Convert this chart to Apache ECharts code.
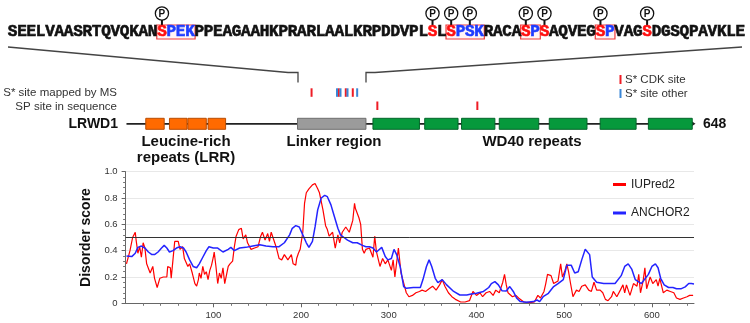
<!DOCTYPE html>
<html><head><meta charset="utf-8">
<script src="https://cdn.jsdelivr.net/npm/echarts@6/dist/echarts.min.js"></script>
<style>html,body{margin:0;padding:0;background:#fff}#c{width:750px;height:323px}</style>
</head><body><div id="c"></div>
<script>
// ---------------- data ----------------
const sequence = "SEELVAASRTQVQKANSPEKPPEAGAAHKPRARLAALKRPDDVPLSLSPSKRACASPSAQVEGSPVAGSDGSQPAVKLE";
const seqStart = 196;                       // first residue of the shown linker sequence
const proteinLength = 648;
const phosphoChars = [17, 46, 48, 50, 56, 58, 64, 69];   // positions in the shown sequence (1-based)
const redChars = [17, 46, 48, 56, 58, 64, 69];
const blueChars = [18, 19, 20, 49, 50, 51, 57, 65];
const motifBoxes = [[17, 20], [48, 51], [56, 57], [64, 65]];
const msSitesCDK = [212, 243, 251, 259];
const msSitesOther = [241, 245, 253, 264];
const spSites = [287, 401];
const lrrDomains = [[23, 44], [50, 70], [71, 92], [94, 114]];
const linkerDomain = [[196, 274]];
const wd40Domains = [[282, 335], [341, 379], [383, 421], [426, 471], [483, 526], [541, 582], [596, 646]];
const xTicks = [100, 200, 300, 400, 500, 600];

const iupred2 = [
[1,0.30],[5,0.40],[8,0.50],[11,0.54],[12,0.48],[14,0.38],[16,0.43],[18,0.35],[20,0.46],[22,0.42],[24,0.30],[28,0.23],[31,0.28],[33,0.19],[36,0.12],[39,0.19],[43,0.20],[47,0.20],[48,0.28],[51,0.27],[52,0.19],[54,0.33],[56,0.47],[58,0.46],[60,0.47],[62,0.41],[65,0.43],[67,0.34],[69,0.33],[71,0.28],[73,0.30],[76,0.23],[79,0.15],[81,0.13],[83,0.18],[84,0.23],[86,0.19],[88,0.28],[90,0.22],[92,0.24],[94,0.18],[96,0.25],[98,0.29],[100,0.35],[101,0.39],[103,0.28],[105,0.15],[107,0.23],[109,0.19],[111,0.27],[113,0.15],[115,0.14],[117,0.28],[119,0.30],[122,0.32],[124,0.43],[126,0.51],[129,0.56],[132,0.57],[134,0.49],[137,0.52],[139,0.46],[143,0.41],[147,0.42],[151,0.43],[154,0.51],[156,0.54],[159,0.48],[162,0.53],[164,0.47],[166,0.54],[168,0.55],[172,0.42],[175,0.34],[178,0.33],[181,0.37],[185,0.33],[189,0.37],[191,0.30],[194,0.29],[195,0.34],[197,0.38],[199,0.41],[202,0.54],[204,0.76],[206,0.84],[209,0.87],[213,0.90],[216,0.91],[219,0.87],[221,0.84],[225,0.71],[228,0.59],[230,0.56],[232,0.51],[236,0.54],[239,0.42],[242,0.52],[244,0.46],[247,0.54],[251,0.58],[255,0.54],[259,0.63],[261,0.76],[262,0.72],[266,0.65],[268,0.60],[270,0.41],[272,0.38],[274,0.41],[278,0.42],
[282,0.35],[284,0.51],[286,0.39],[290,0.28],[293,0.34],[296,0.30],[299,0.33],[303,0.25],[305,0.33],[307,0.20],[311,0.42],[313,0.43],[314,0.23],[316,0.18],[320,0.08],[323,0.05],[327,0.06],[331,0.08],[335,0.09],[338,0.10],[342,0.09],[346,0.11],[350,0.13],[354,0.10],[358,0.14],[361,0.18],[364,0.13],[368,0.08],[372,0.05],[376,0.03],[382,0.01],[387,0.01],[392,0.02],[396,0.09],[400,0.06],[404,0.08],[407,0.05],[411,0.08],[415,0.09],[419,0.06],[422,0.10],[426,0.08],[430,0.16],[432,0.22],[434,0.14],[436,0.08],[441,0.05],[445,0.06],[448,0.04],[454,0.01],[461,0.005],[466,0.01],[470,0.06],[473,0.04],[477,0.09],[479,0.15],[481,0.22],[485,0.21],[488,0.15],[493,0.17],[496,0.30],[498,0.20],[501,0.25],[503,0.30],[505,0.24],[507,0.16],[510,0.05],[512,0.06],[514,0.10],[517,0.09],[520,0.13],[524,0.14],[526,0.15],[528,0.10],[531,0.09],[534,0.16],[537,0.10],[541,0.10],[544,0.08],[547,0.03],[550,0.02],[554,0.05],[556,0.09],[560,0.05],[564,0.10],[567,0.14],[569,0.08],[571,0.14],[575,0.06],[579,0.15],[583,0.13],[585,0.22],[587,0.08],[590,0.17],[592,0.27],[594,0.11],[598,0.20],[601,0.15],[605,0.18],[607,0.13],[609,0.19],[613,0.08],[617,0.10],[621,0.09],[625,0.08],[628,0.04],[632,0.03],[636,0.04],[640,0.05],[643,0.06],[647,0.06]
];
const anchor2 = [
[1,0.36],[7,0.355],[11,0.38],[14,0.425],[18,0.435],[22,0.42],[26,0.39],[30,0.37],[33,0.37],[37,0.39],[41,0.42],[44,0.44],[47,0.42],[50,0.39],[54,0.40],[58,0.42],[62,0.43],[66,0.42],[69,0.39],[73,0.33],[77,0.28],[81,0.27],[84,0.30],[88,0.35],[92,0.40],[95,0.43],[100,0.42],[105,0.42],[111,0.39],[117,0.41],[120,0.425],[124,0.40],[130,0.42],[137,0.425],[145,0.435],[153,0.445],[160,0.435],[168,0.43],[175,0.43],[181,0.46],[187,0.52],[190,0.57],[194,0.59],[198,0.58],[202,0.52],[206,0.46],[209,0.425],[213,0.47],[216,0.58],[219,0.71],[223,0.80],[227,0.82],[230,0.81],[234,0.75],[238,0.66],[242,0.57],[245,0.52],[249,0.50],[253,0.48],[259,0.46],[264,0.46],[270,0.44],[274,0.43],[278,0.43],[282,0.42],[286,0.39],[292,0.425],[296,0.355],[299,0.33],[303,0.34],[306,0.41],[309,0.37],[313,0.28],[317,0.127],[320,0.114],[328,0.12],[336,0.12],[339,0.18],[343,0.28],[346,0.33],[349,0.28],[353,0.19],[356,0.157],[361,0.18],[366,0.14],[374,0.09],[381,0.063],[389,0.063],[394,0.07],[400,0.076],[408,0.09],[414,0.12],[417,0.15],[421,0.165],[425,0.14],[429,0.096],[434,0.094],[438,0.127],[442,0.09],[446,0.038],[450,0.013],[457,0.008],[465,0.013],[469,0.025],[472,0.013],[476,0.05],[482,0.076],[488,0.127],[493,0.15],[499,0.18],[503,0.29],[508,0.29],[512,0.23],[516,0.24],[520,0.33],[524,0.41],[526,0.42],[529,0.37],[532,0.20],[537,0.16],[545,0.15],[552,0.15],[558,0.15],[565,0.21],[569,0.28],[573,0.30],[577,0.26],[581,0.18],[588,0.15],[596,0.22],[600,0.28],[604,0.30],[607,0.27],[610,0.19],[614,0.14],[619,0.12],[624,0.12],[628,0.11],[633,0.11],[638,0.125],[642,0.15],[645,0.15],[648,0.147]
];

// ---------------- layout / styles ----------------
const SANS = '"Liberation Sans", Arial, sans-serif';
const RED = '#ff1010', BLUE = '#1f3dff';
const seqX0 = 8, pitch = 9.33, seqY = 32;

const chart = echarts.init(document.getElementById('c'), null, {renderer: 'canvas'});

const graphics = [];
// sequence letters
for (let i = 0; i < sequence.length; i++) {
  const n = i + 1;
  let fill = '#111';
  if (redChars.includes(n)) fill = RED; else if (blueChars.includes(n)) fill = BLUE;
  graphics.push({type: 'text', z: 10, style: {text: sequence[i], x: seqX0 + (i + 0.5) * pitch, y: seqY,
    textAlign: 'center', textVerticalAlign: 'middle', fill: fill, stroke: fill, lineWidth: 0.6,
    font: 'bold 16px "Liberation Mono", "DejaVu Sans Mono", monospace'}});
}
// motif boxes
motifBoxes.forEach(([a, b]) => {
  graphics.push({type: 'rect', z: 5, shape: {x: seqX0 + (a - 1) * pitch - 0.5, y: 25, width: (b - a + 1) * pitch + 1, height: 14},
    style: {fill: 'rgba(255,80,80,0.06)', stroke: '#f03a3a', lineWidth: 1.2}});
});
// phospho markers
phosphoChars.forEach(n => {
  const cx = seqX0 + (n - 0.5) * pitch;
  graphics.push({type: 'line', z: 6, shape: {x1: cx, y1: 20, x2: cx, y2: 25.5}, style: {stroke: '#111', lineWidth: 2}});
  graphics.push({type: 'circle', z: 6, shape: {cx: cx, cy: 13.5, r: 6.6}, style: {fill: '#fff', stroke: '#111', lineWidth: 1.3}});
  graphics.push({type: 'text', z: 7, style: {text: 'P', x: cx, y: 14, textAlign: 'center', textVerticalAlign: 'middle',
    fill: '#111', font: 'bold 10px ' + SANS}});
});
// zoom connector lines
graphics.push({type: 'polyline', shape: {points: [[8, 47], [288, 72.5], [298, 72.5], [298, 82.5]]}, style: {stroke: '#444', lineWidth: 1.3, fill: null}});
graphics.push({type: 'polyline', shape: {points: [[742, 47], [375, 72.5], [366, 72.5], [366, 82.5]]}, style: {stroke: '#444', lineWidth: 1.3, fill: null}});
// left labels
graphics.push({type: 'text', style: {text: 'S* site mapped by MS', x: 117, y: 93, textAlign: 'right', textVerticalAlign: 'middle', fill: '#333', font: '11.5px ' + SANS}});
graphics.push({type: 'text', style: {text: 'SP site in sequence', x: 117, y: 106.5, textAlign: 'right', textVerticalAlign: 'middle', fill: '#333', font: '11.5px ' + SANS}});
graphics.push({type: 'text', style: {text: 'LRWD1', x: 118, y: 124, textAlign: 'right', textVerticalAlign: 'middle', fill: '#111', font: 'bold 14px ' + SANS}});
graphics.push({type: 'text', style: {text: String(proteinLength), x: 703, y: 124, textAlign: 'left', textVerticalAlign: 'middle', fill: '#111', font: 'bold 14px ' + SANS}});
// domain labels
const domLabel = (t, x, y) => graphics.push({type: 'text', style: {text: t, x: x, y: y, textAlign: 'center', textVerticalAlign: 'middle', fill: '#111', font: 'bold 15px ' + SANS}});
domLabel('Leucine-rich', 186, 141.5);
domLabel('repeats (LRR)', 186, 158);
domLabel('Linker region', 334, 141.5);
domLabel('WD40 repeats', 532, 141.5);
// site legend
graphics.push({type: 'rect', shape: {x: 619.5, y: 75, width: 2, height: 9}, style: {fill: '#ee1c25'}});
graphics.push({type: 'text', style: {text: 'S* CDK site', x: 625, y: 80, textVerticalAlign: 'middle', fill: '#333', font: '11.5px ' + SANS}});
graphics.push({type: 'rect', shape: {x: 619.5, y: 89, width: 2, height: 9}, style: {fill: '#3a86d6'}});
graphics.push({type: 'text', style: {text: 'S* site other', x: 625, y: 93.5, textVerticalAlign: 'middle', fill: '#333', font: '11.5px ' + SANS}});

// domain series data
const domainData = [];
lrrDomains.forEach(d => domainData.push([d[0], d[1], 0]));
linkerDomain.forEach(d => domainData.push([d[0], d[1], 1]));
wd40Domains.forEach(d => domainData.push([d[0], d[1], 2]));
const domainFill = ['#ff6a00', '#9b9b9b', '#06993c'];
const domainStroke = ['#b94c00', '#6e6e6e', '#04662a'];
const siteData = [];
msSitesCDK.forEach(r => siteData.push([r, 0]));
msSitesOther.forEach(r => siteData.push([r, 1]));
spSites.forEach(r => siteData.push([r, 2]));

const option = {
  animation: false,
  backgroundColor: '#fff',
  textStyle: {fontFamily: SANS},
  graphic: graphics,
  grid: [
    {left: 125.6, right: 56, top: 171.7, bottom: 19.7},
    {left: 125.6, right: 56, top: 80, height: 50}
  ],
  legend: {
    left: 608, top: 173.5, orient: 'vertical', itemGap: 16.5, itemWidth: 13, itemHeight: 3,
    icon: 'rect', textStyle: {fontSize: 12, color: '#222', fontFamily: SANS},
    data: ['IUPred2', 'ANCHOR2']
  },
  xAxis: [
    {gridIndex: 0, type: 'value', min: 0, max: proteinLength, interval: 100,
     axisLine: {lineStyle: {color: '#666', width: 1}},
     axisTick: {show: true, length: 4, lineStyle: {color: '#666'},
       customValues: xTicks},
     minorTick: {show: true, splitNumber: 5, length: 2.5, lineStyle: {color: '#777'}},
     axisLabel: {fontSize: 9.5, color: '#333', margin: 7, customValues: xTicks},
     splitLine: {show: false}},
    {gridIndex: 1, type: 'value', min: 0, max: proteinLength, show: false}
  ],
  yAxis: [
    {gridIndex: 0, type: 'value', min: 0, max: 1, interval: 0.2,
     name: 'Disorder score', nameLocation: 'middle', nameGap: 30,
     nameTextStyle: {fontSize: 14, fontWeight: 'bold', color: '#111', fontFamily: SANS},
     axisLine: {show: true, lineStyle: {color: '#666'}},
     axisTick: {show: true, length: 4, lineStyle: {color: '#666'}},
     minorTick: {show: true, splitNumber: 5, length: 2.5, lineStyle: {color: '#777'}},
     axisLabel: {fontSize: 9.5, color: '#333', margin: 8, formatter: v => v === 0 ? '0' : v.toFixed(1)},
     splitLine: {show: true, lineStyle: {color: '#e8e8e8', width: 1}}},
    {gridIndex: 1, type: 'value', min: 0, max: 1, show: false}
  ],
  series: [
    {name: 'IUPred2', type: 'line', xAxisIndex: 0, yAxisIndex: 0, data: iupred2, showSymbol: false, symbol: 'none',
     lineStyle: {color: '#ff0000', width: 1.2}, itemStyle: {color: '#ff0000'}, z: 3,
     markLine: {silent: true, symbol: 'none', label: {show: false}, lineStyle: {color: '#333', width: 1, type: 'solid'},
       data: [{yAxis: 0.5}]}},
    {name: 'ANCHOR2', type: 'line', xAxisIndex: 0, yAxisIndex: 0, data: anchor2, showSymbol: false, symbol: 'none',
     lineStyle: {color: '#2424ff', width: 1.5}, itemStyle: {color: '#2424ff'}, z: 4},
    // backbone
    {type: 'custom', xAxisIndex: 1, yAxisIndex: 1, data: [[1, proteinLength]], z: 1,
     renderItem: (p, api) => {
       const s = api.coord([api.value(0), 0]), e = api.coord([api.value(1), 0]);
       const y = 123.8;
       return {type: 'group', children: [
         {type: 'line', shape: {x1: s[0], y1: y, x2: e[0] - 1, y2: y}, style: {stroke: '#222', lineWidth: 1.8}},
         {type: 'polygon', shape: {points: [[e[0] - 3, y - 3], [e[0] + 1.5, y], [e[0] - 3, y + 3]]}, style: {fill: '#222'}}
       ]};
     }},
    // domains
    {type: 'custom', xAxisIndex: 1, yAxisIndex: 1, data: domainData, z: 2,
     renderItem: (p, api) => {
       const s = api.coord([api.value(0), 0]), e = api.coord([api.value(1), 0]);
       const t = api.value(2);
       return {type: 'rect', shape: {x: s[0], y: 118.3, width: e[0] - s[0], height: 11},
         style: {fill: domainFill[t], stroke: domainStroke[t], lineWidth: 1}};
     }},
    // sites
    {type: 'custom', xAxisIndex: 1, yAxisIndex: 1, data: siteData, z: 3,
     renderItem: (p, api) => {
       const c = api.coord([api.value(0), 0]);
       const t = api.value(1);
       const y = t === 2 ? 101.5 : 88.3;
       return {type: 'rect', shape: {x: c[0] - 1, y: y, width: 2, height: 8.5},
         style: {fill: t === 1 ? '#3a86d6' : '#ee1c25'}};
     }}
  ]
};
chart.setOption(option);
</script></body></html>
